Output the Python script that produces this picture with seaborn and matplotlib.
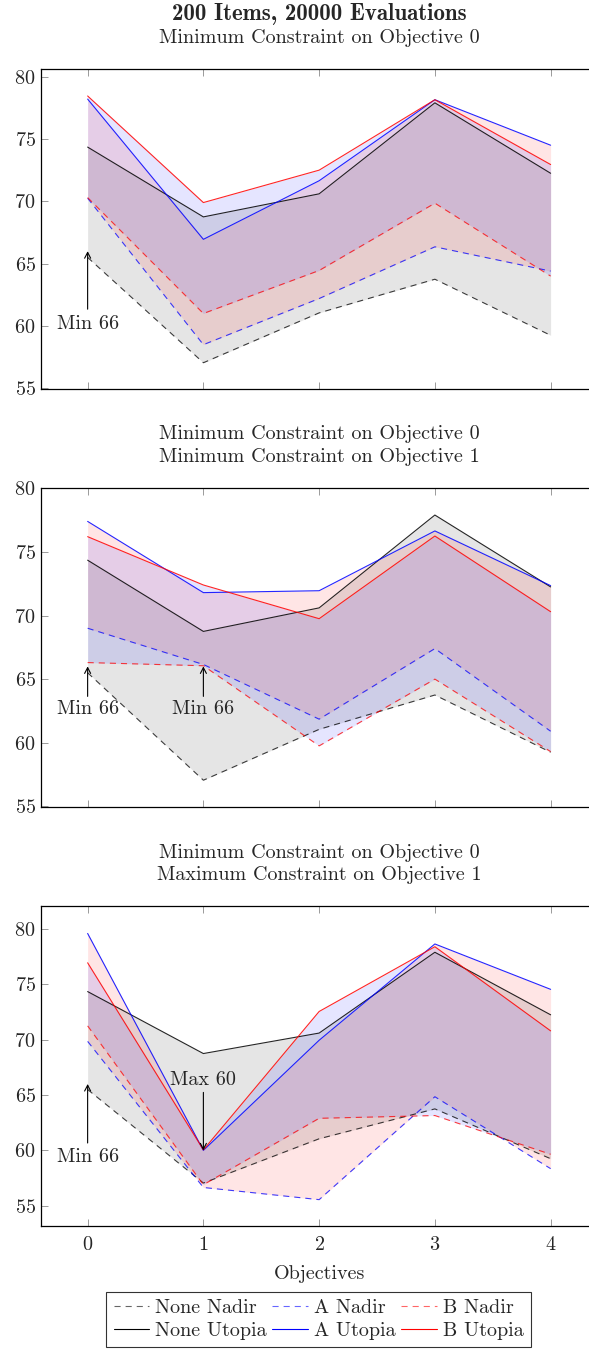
import matplotlib
matplotlib.use("Agg")
import matplotlib.pyplot as plt
from matplotlib.lines import Line2D
import numpy as np
import pandas as pd
import seaborn as sns

# ---- data -------------------------------------------------------------
objectives = [0, 1, 2, 3, 4]

none_nadir = [65.5, 57.05, 61.05, 63.75, 59.25]
none_utopia = [74.35, 68.75, 70.6, 77.9, 72.25]

# panel 1: minimum constraint on objective 0
p1_a_nadir = [70.25, 58.5, 62.2, 66.35, 64.4]
p1_a_utopia = [78.2, 66.95, 71.65, 78.15, 74.5]
p1_b_nadir = [70.3, 61.0, 64.45, 69.85, 64.0]
p1_b_utopia = [78.45, 69.9, 72.5, 78.15, 72.95]

# panel 2: minimum constraint on objectives 0 and 1
p2_a_nadir = [69.0, 66.15, 61.85, 67.4, 60.9]
p2_a_utopia = [77.4, 71.8, 71.95, 76.65, 72.35]
p2_b_nadir = [66.3, 66.05, 59.75, 65.0, 59.3]
p2_b_utopia = [76.2, 72.4, 69.75, 76.25, 70.3]

# panel 3: minimum on objective 0, maximum on objective 1
p3_a_nadir = [69.85, 56.65, 55.55, 64.85, 58.35]
p3_a_utopia = [79.6, 60.0, 69.95, 78.65, 74.55]
p3_b_nadir = [71.25, 56.9, 62.9, 63.15, 59.65]
p3_b_utopia = [76.95, 60.05, 72.55, 78.4, 70.8]

titles = [
    ["Minimum Constraint on Objective 0"],
    ["Minimum Constraint on Objective 0", "Minimum Constraint on Objective 1"],
    ["Minimum Constraint on Objective 0", "Maximum Constraint on Objective 1"],
]
suptitle = "200 Items, 20000 Evaluations"
yticks = [55, 60, 65, 70, 75, 80]

# ---- style ------------------------------------------------------------
sns.set_theme(style="ticks")
plt.rcParams["font.family"] = ["cmr10", "DejaVu Serif"]
plt.rcParams["axes.formatter.use_mathtext"] = True
plt.rcParams["mathtext.fontset"] = "cm"
FS = 14.5

line_colors = {"None": "black", "A": "blue", "B": "red"}
fill_colors = {"None": "black", "A": "red", "B": "blue"}
DASH = (5.5, 4.5)
LW = 0.8

fig = plt.figure(figsize=(5.89, 13.5), dpi=100)
W, H = 589.0, 1350.0
left_px, width_px = 41.33, 555.6
panel_px = [(69.3, 389.3), (487.7, 807.3), (906.0, 1226.0)]
ylims = [(54.92, 80.59), (54.92, 80.05), (53.17, 82.08)]

panels = [
    (p1_a_nadir, p1_a_utopia, p1_b_nadir, p1_b_utopia),
    (p2_a_nadir, p2_a_utopia, p2_b_nadir, p2_b_utopia),
    (p3_a_nadir, p3_a_utopia, p3_b_nadir, p3_b_utopia),
]


def long_frame(a_nadir, a_utopia, b_nadir, b_utopia):
    rows = []
    for method, nad, uto in (("None", none_nadir, none_utopia),
                             ("A", a_nadir, a_utopia),
                             ("B", b_nadir, b_utopia)):
        for x, v in zip(objectives, nad):
            rows.append((x, v, method, "Nadir"))
        for x, v in zip(objectives, uto):
            rows.append((x, v, method, "Utopia"))
    return pd.DataFrame(rows, columns=["objective", "value", "method", "kind"])


def arrow(ax, xy, tail_px, text, text_px):
    ax.annotate("", xy=xy, xytext=(0, tail_px), textcoords="offset pixels",
                arrowprops=dict(arrowstyle="->,head_length=0.35,head_width=0.18",
                                color="black", lw=0.8, shrinkA=0, shrinkB=0))
    ax.annotate(text, xy=xy, xytext=(0, text_px), textcoords="offset pixels",
                ha="center", va="center", fontsize=FS)


axes = []
for i, ((top, bot), ylim, data) in enumerate(zip(panel_px, ylims, panels)):
    ax = fig.add_axes([left_px / W, 1 - bot / H, width_px / W, (bot - top) / H])
    axes.append(ax)
    a_nadir, a_utopia, b_nadir, b_utopia = data
    df = long_frame(*data)

    # shaded ranges between nadir and utopia
    for method, nad, uto in (("None", none_nadir, none_utopia),
                             ("A", a_nadir, a_utopia),
                             ("B", b_nadir, b_utopia)):
        ax.fill_between(objectives, nad, uto, color=fill_colors[method],
                        alpha=0.1, linewidth=0)

    sns.lineplot(data=df[df["kind"] == "Nadir"], x="objective", y="value",
                 hue="method", palette=line_colors, ax=ax, legend=False,
                 linewidth=LW, alpha=0.75, dashes=False, sort=False,
                 estimator=None)
    sns.lineplot(data=df[df["kind"] == "Utopia"], x="objective", y="value",
                 hue="method", palette=line_colors, ax=ax, legend=False,
                 linewidth=LW, alpha=0.85, sort=False, estimator=None)
    for ln in ax.lines[:3]:
        ln.set_dashes(DASH)

    ax.set_xlim(-0.4, 4.4)
    ax.set_ylim(*ylim)
    ax.set_xticks(objectives)
    ax.set_yticks(yticks)
    ax.set_xlabel("")
    ax.set_ylabel("")
    ax.tick_params(direction="in", length=5, width=0.7, color="#9a9a9a",
                   top=True, right=True, labelsize=FS, pad=4)
    ax.tick_params(axis="x", pad=7)
    for sp in ax.spines.values():
        sp.set_color("black")
        sp.set_linewidth(0.9)
    if i < 2:
        ax.set_xticklabels([])

    lines_t = titles[i]
    for k, t in enumerate(reversed(lines_t)):
        ax.annotate(t, xy=(0.5, 1), xycoords="axes fraction",
                    xytext=(0, 26 + 22.5 * k), textcoords="offset pixels",
                    ha="center", va="baseline", fontsize=FS)
    if i == 0:
        ax.annotate(suptitle, xy=(0.5, 1), xycoords="axes fraction",
                    xytext=(0, 49), textcoords="offset pixels",
                    ha="center", va="baseline", fontsize=16.5,
                    family="cmb10")

arrow(axes[0], (0, 66), -58, "Min 66", -73)
arrow(axes[1], (0, 66), -30, "Min 66", -43)
arrow(axes[1], (1, 66), -30, "Min 66", -43)
arrow(axes[2], (0, 66), -59, "Min 66", -73)
arrow(axes[2], (1, 60), 58, "Max 60", 70)

axes[2].set_xlabel("Objectives", fontsize=FS, labelpad=8)

# legend
handles, labels = [], []
for method in ("None", "A", "B"):
    for kind in ("Nadir", "Utopia"):
        if kind == "Nadir":
            h = Line2D([], [], color=line_colors[method], lw=LW, alpha=0.6,
                       dashes=DASH)
        else:
            h = Line2D([], [], color=line_colors[method], lw=LW)
        handles.append(h)
        labels.append(f"{method} {kind}")
leg = fig.legend(handles, labels, ncol=3, loc="center",
                 bbox_to_anchor=(318.5 / W, 1 - 1319.5 / H),
                 fontsize=FS, frameon=True, fancybox=False,
                 edgecolor="black", handlelength=1.75, handletextpad=0.3,
                 columnspacing=0.3, borderpad=0.35, labelspacing=0.25,
                 borderaxespad=0)
leg.get_frame().set_linewidth(0.8)

fig.savefig("out.png", dpi=100)
